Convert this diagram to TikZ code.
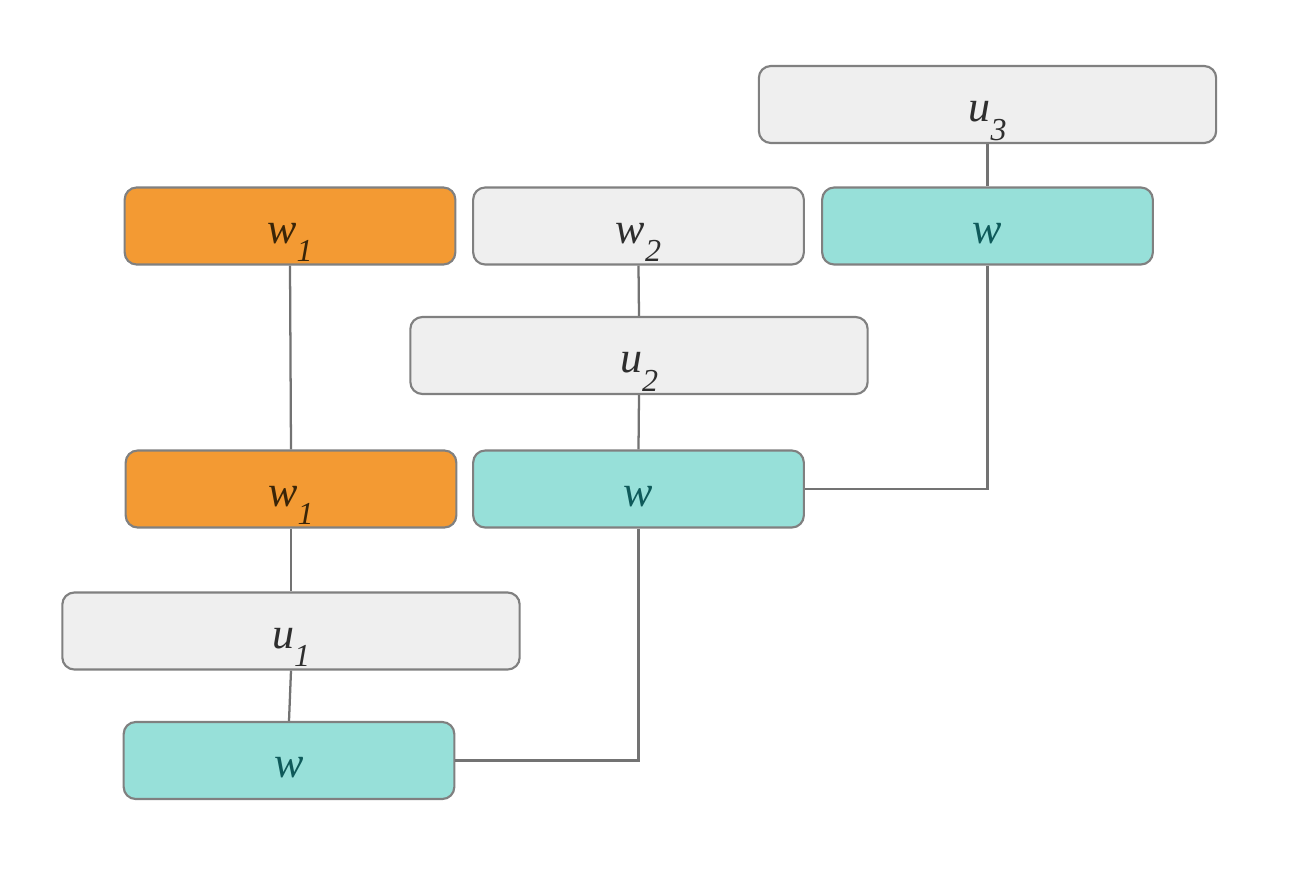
\documentclass[tikz,border=0pt]{standalone}
\usepackage{fontspec}
\setmainfont{Liberation Serif}
\newcommand\lab[2]{\textit{#1}\raisebox{-14pt}{\fontsize{24}{24}\selectfont\textit{#2}}}
\begin{document}
\begin{tikzpicture}[x=0.75pt,y=-0.75pt,
  box/.style={draw=black!50, line width=1.6pt, rounded corners=9pt, minimum height=57.75pt,
    inner sep=0pt, text height=25.5pt, text depth=0pt, font=\fontsize{33}{33}\selectfont},
  wbox/.style={box, minimum width=248pt},
  ubox/.style={box, minimum width=343pt},
  ora/.style={fill=orangeF, text=oraText},
  gry/.style={fill=grayF, text=grayText},
  tea/.style={fill=tealF, text=tealText},
  link/.style={draw=black!55, line width=1.7pt}]
\definecolor{orangeF}{HTML}{F39A33}
\definecolor{grayF}{HTML}{EFEFEF}
\definecolor{tealF}{HTML}{97E0D9}
\definecolor{oraText}{HTML}{3A2508}
\definecolor{grayText}{HTML}{2E2E2E}
\definecolor{tealText}{HTML}{0E5A5A}
\useasboundingbox[fill=white] (0,0) rectangle (1310,874);
\node[ubox,gry] (u3) at (987.5,104.5) {\lab{u}{3}};
\node[wbox,ora] (w1a) at (290,226) {\lab{w}{1}};
\node[wbox,gry] (w2) at (638.5,226) {\lab{w}{2}};
\node[wbox,tea] (wa) at (987.5,226) {\textit{w}};
\node[ubox,gry] (u2) at (639,355.5) {\lab{u}{2}};
\node[wbox,ora] (w1b) at (291,489) {\lab{w}{1}};
\node[wbox,tea] (wb) at (638.5,489) {\textit{w}};
\node[ubox,gry] (u1) at (291,631) {\lab{u}{1}};
\node[wbox,tea] (wc) at (289,760.5) {\textit{w}};
\draw[link] (u3.south) -- (wa.north);
\draw[link] (wa.south) |- (wb.east);
\draw[link] (w1a.south) -- (w1b.north);
\draw[link] (w2.south) -- (u2.north);
\draw[link] (u2.south) -- (wb.north);
\draw[link] (w1b.south) -- (u1.north);
\draw[link] (u1.south) -- (wc.north);
\draw[link] (wb.south) |- (wc.east);
\end{tikzpicture}
\end{document}
